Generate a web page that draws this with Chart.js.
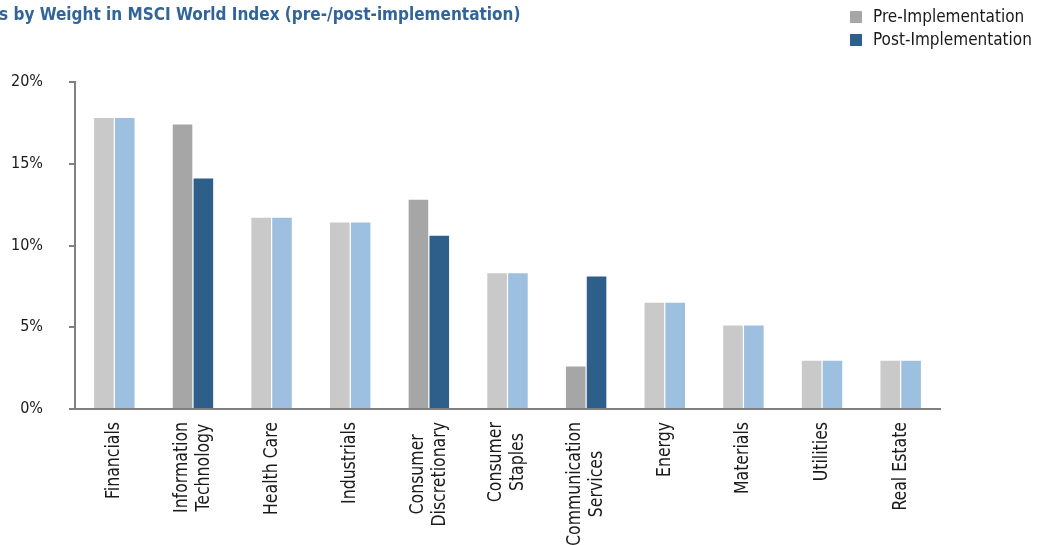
<!DOCTYPE html>
<html>
<head>
<meta charset="utf-8">
<script src="https://cdn.jsdelivr.net/npm/chart.js@4"></script>
<style>
  html, body { margin: 0; padding: 0; background: #fff; }
  #wrap { width: 1038px; height: 545px; position: relative; }
</style>
</head>
<body>
<div id="wrap"><canvas id="chart" width="1038" height="545"></canvas></div>
<script>
const FONT = "'DejaVu Sans Condensed', 'DejaVu Sans', sans-serif";

const titleText = 's by Weight in MSCI World Index (pre-/post-implementation)';
const categories = [
    ['Financials'], ['Information', 'Technology'], ['Health Care'], ['Industrials'],
    ['Consumer', 'Discretionary'], ['Consumer', 'Staples'], ['Communication', 'Services'],
    ['Energy'], ['Materials'], ['Utilities'], ['Real Estate']
];
const preValues = [17.8, 17.4, 11.7, 11.4, 12.8, 8.3, 2.6, 6.5, 5.1, 2.95, 2.95];
const postValues = [17.8, 14.1, 11.7, 11.4, 10.6, 8.3, 8.1, 6.5, 5.1, 2.95, 2.95];
const yTicks = [0, 5, 10, 15, 20];

// unchanged sectors are drawn in lighter shades
const changed = preValues.map((v, i) => v !== postValues[i]);
const preColors = changed.map(c => c ? '#a6a6a6' : '#c9c9c9');
const postColors = changed.map(c => c ? '#2e5f8a' : '#9dbfe0');

const headerPlugin = {
    id: 'header',
    afterDraw(chart) {
        const ctx = chart.ctx;
        ctx.save();
        ctx.font = `bold 17px ${FONT}`;
        ctx.fillStyle = '#31659a';
        ctx.textBaseline = 'middle';
        ctx.textAlign = 'left';
        ctx.fillText(titleText, -1, 16);

        // legend, stacked vertically in the top right corner
        const items = [
            { label: 'Pre-Implementation', color: '#a6a6a6', y: 17 },
            { label: 'Post-Implementation', color: '#2e5f8a', y: 40 }
        ];
        ctx.font = `17px ${FONT}`;
        items.forEach(item => {
            ctx.fillStyle = item.color;
            ctx.fillRect(850, item.y - 6, 12, 12);
            ctx.fillStyle = '#1a1a1a';
            ctx.fillText(item.label, 873, item.y + 1);
        });
        ctx.restore();
    }
};

// vertical category labels, lines centred on each other like the original
const xLabelPlugin = {
    id: 'xLabels',
    afterDraw(chart) {
        const ctx = chart.ctx;
        const xScale = chart.scales.x;
        const top = xScale.top + 13;
        const lineGap = 22;
        const squeeze = 0.92; // narrower glyphs, closer to the condensed original
        ctx.save();
        ctx.font = `19px ${FONT}`;
        ctx.fillStyle = '#1a1a1a';
        ctx.textAlign = 'center';
        ctx.textBaseline = 'middle';
        categories.forEach((lines, i) => {
            const cx = xScale.getPixelForValue(i);
            const maxW = Math.max(...lines.map(l => ctx.measureText(l).width)) * squeeze;
            lines.forEach((line, j) => {
                ctx.save();
                ctx.translate(cx + (j - (lines.length - 1) / 2) * lineGap, top + maxW / 2);
                ctx.rotate(-Math.PI / 2);
                ctx.scale(squeeze, 1);
                ctx.fillText(line, 0, 0);
                ctx.restore();
            });
        });
        ctx.restore();
    }
};

new Chart(document.getElementById('chart'), {
    type: 'bar',
    data: {
        labels: categories.map(c => c.join(' ')),
        datasets: [
            {
                label: 'Pre-Implementation',
                data: preValues,
                backgroundColor: preColors,
                categoryPercentage: 0.53,
                barPercentage: 0.94
            },
            {
                label: 'Post-Implementation',
                data: postValues,
                backgroundColor: postColors,
                categoryPercentage: 0.53,
                barPercentage: 0.94
            }
        ]
    },
    options: {
        responsive: false,
        animation: false,
        layout: { padding: { top: 82, right: 98, left: 0, bottom: 0 } },
        plugins: {
            legend: { display: false },
            tooltip: { enabled: false }
        },
        scales: {
            x: {
                afterFit: s => { s.height = 136; },
                grid: { display: false, drawTicks: false },
                border: { color: '#808080', width: 2 },
                ticks: { display: false, autoSkip: false }
            },
            y: {
                min: 0,
                max: 20,
                afterFit: s => { s.width = 75; },
                afterBuildTicks: s => { s.ticks = yTicks.map(v => ({ value: v })); },
                grid: { drawOnChartArea: false, tickLength: 6, color: '#808080', lineWidth: 2 },
                border: { color: '#808080', width: 2 },
                ticks: {
                    padding: 26,
                    color: '#1a1a1a',
                    font: { family: FONT, size: 16 },
                    callback: v => v + '%'
                }
            }
        }
    },
    plugins: [headerPlugin, xLabelPlugin]
});
</script>
</body>
</html>
